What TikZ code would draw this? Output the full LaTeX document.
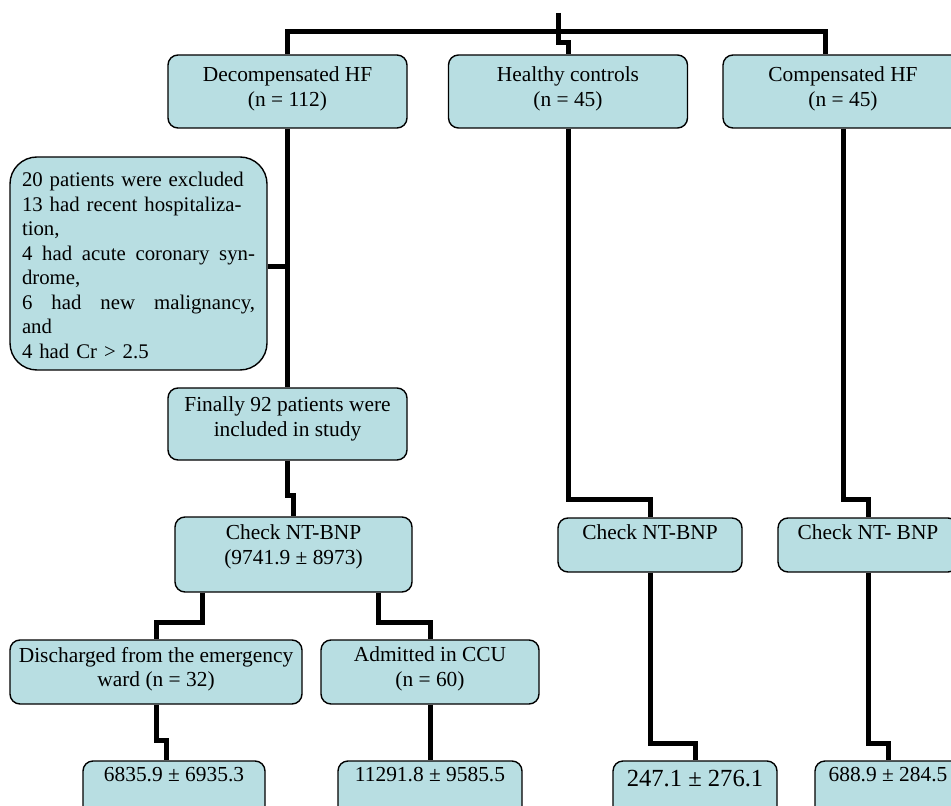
\documentclass[tikz,border=0pt]{standalone}
\usepackage{fontspec}
\setmainfont{Liberation Serif}
\definecolor{boxfill}{RGB}{184,222,226}
\newcommand{\boxfont}{\fontsize{10.7}{12.2}\selectfont}
\newcommand{\notefont}{\fontsize{10.4}{12.25}\selectfont}
\newcommand{\bigfont}{\fontsize{12.3}{14}\selectfont}
\begin{document}
\begin{tikzpicture}[x=0.5pt, y=-0.5pt,
            box/.style = {draw, line width=0.7pt, fill=boxfill, rounded corners=5pt, inner sep=0pt},
            boxtext/.style = {anchor=north, align=center, inner sep=0pt, font=\boxfont, yshift=#1},
            boxtext/.default = -3.7pt,
            link/.style = {line width=2.5pt}]
            \useasboundingbox (0,0) rectangle (951,806);

            \node[box, minimum width=119.5pt, minimum height=36.5pt,
                label={[boxtext=-6.2pt]north:{Decompensated HF\\(n = 112)}}] (dhf) at (287.5,91.5) {};
            \node[box, minimum width=119.5pt, minimum height=36.5pt,
                label={[boxtext=-6.2pt]north:{Healthy controls\\(n = 45)}}] (hc) at (568,91.5) {};
            \node[box, minimum width=120pt, minimum height=36.5pt,
                label={[boxtext=-6.2pt]north:{Compensated HF\\(n = 45)}}] (chf) at (843,91.5) {};

            \node[box, rounded corners=13.5pt, minimum width=128.5pt, minimum height=106.5pt,
                label={[boxtext=-7.9pt, align=left, text width=116.5pt, font=\notefont]north:{20 patients were excluded\\13 had recent hospitaliza-\\tion,\\4\hfill had\hfill acute\hfill coronary\hfill syn-\\drome,\\6\hfill had\hfill new\hfill malignancy,\\and\\4 had Cr > 2.5}}] (excl) at (138.5,263.5) {};

            \node[box, minimum width=119.5pt, minimum height=36pt,
                label={[boxtext=-4.7pt]north:{Finally 92 patients were\\included in study}}] (fin) at (287.5,424) {};

            \node[box, minimum width=118.5pt, minimum height=37.5pt,
                label={[boxtext=-4.2pt]north:{Check NT-BNP\\(9741.9 ± 8973)}}] (chk) at (293.5,554.5) {};
            \node[box, minimum width=92pt, minimum height=27pt,
                label={[boxtext]north:{Check NT-BNP}}] (chkh) at (650,545) {};
            \node[box, minimum width=90pt, minimum height=27pt,
                label={[boxtext]north:{Check NT- BNP}}] (chkc) at (868,545) {};

            \node[box, minimum width=146pt, minimum height=32pt,
                label={[boxtext]north:{Discharged from the emergency\\ward (n = 32)}}] (dis) at (156,672) {};
            \node[box, minimum width=109pt, minimum height=32pt,
                label={[boxtext]north:{Admitted in CCU\\(n = 60)}}] (adm) at (430,672) {};

            \node[box, minimum width=91pt, minimum height=34.5pt,
                label={[boxtext=-3.2pt]north:{6835.9 ± 6935.3}}] (res-dis) at (174,795.5) {};
            \node[box, minimum width=92pt, minimum height=34.5pt,
                label={[boxtext=-3.2pt]north:{11291.8 ± 9585.5}}] (res-adm) at (430,795.5) {};
            \node[box, minimum width=82pt, minimum height=34.5pt,
                label={[boxtext=-4.6pt, font=\bigfont]north:{247.1 ± 276.1}}] (res-hc) at (695,795.5) {};
            \node[box, minimum width=73pt, minimum height=34.5pt,
                label={[boxtext=-3.2pt]north:{688.9 ± 284.5}}] (res-chf) at (888,795.5) {};

            \coordinate (top) at (558,13);
            \coordinate (bar) at (558,32);
            \draw[link] (top) -- ++(0,30) -- ++(10,0) -- (hc.north);
            \draw[link] (dhf.north) |- (bar) -| ([shift={(-18,0)}]chf.north);

            \draw[link] (dhf.south) -- (fin.north);
            \draw[link] ([shift={(0,3.5)}]excl.east) -- ([shift={(0,3.5)}]excl.east -| dhf.south);
            \draw[link] (fin.south) -- ++(0,35) -| (chk.north);
            \draw[link] ([shift={(-91.5,0)}]chk.south) -- ++(0,30) -| (dis.north);
            \draw[link] ([shift={(84.5,0)}]chk.south) -- ++(0,30) -| (adm.north);
            \draw[link] (dis.south) -- ++(0,36) -| ([shift={(-8,0)}]res-dis.north);
            \draw[link] (adm.south) -- (res-adm.north);

            \draw[link] (hc.south) -- ++(0,371) -| (chkh.north);
            \draw[link] (chkh.south) -- ++(0,171) -| (res-hc.north);
            \draw[link] (chf.south) -- ++(0,371) -| (chkc.north);
            \draw[link] (chkc.south) -- ++(0,171) -| (res-chf.north);
        \end{tikzpicture}
\end{document}
